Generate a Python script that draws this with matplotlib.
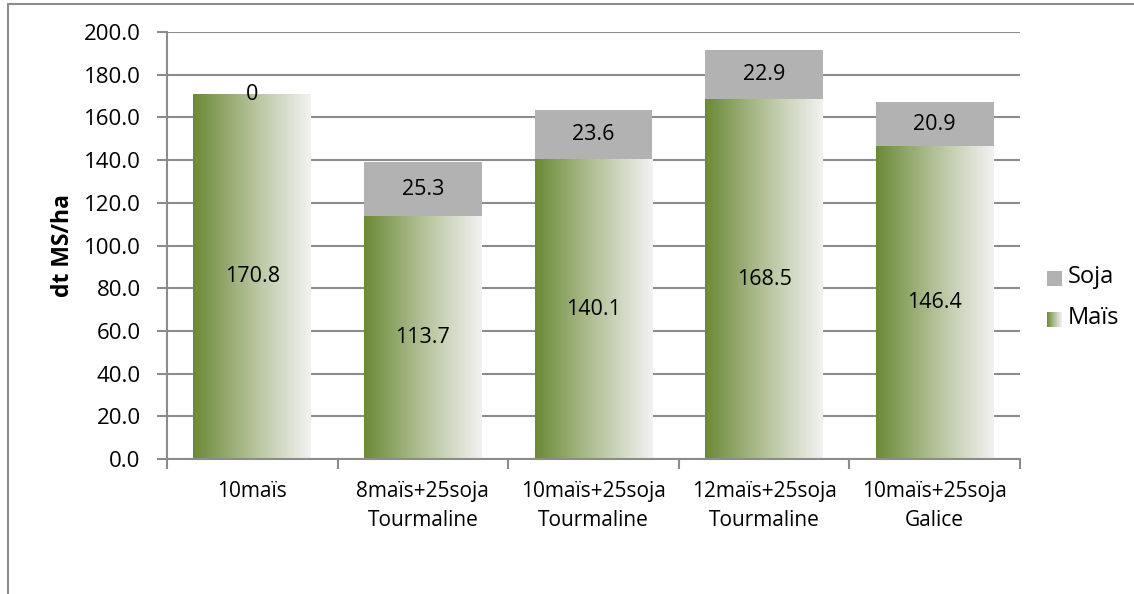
import matplotlib.pyplot as plt
import numpy as np
from matplotlib.colors import LinearSegmentedColormap
from matplotlib.patches import Rectangle

plt.rcParams['font.family'] = ['Open Sans', 'DejaVu Sans']

# Data
categories = ['10maïs', '8maïs+25soja\nTourmaline', '10maïs+25soja\nTourmaline',
              '12maïs+25soja\nTourmaline', '10maïs+25soja\nGalice']
mais = [170.8, 113.7, 140.1, 168.5, 146.4]
soja = [0, 25.3, 23.6, 22.9, 20.9]
soja_labels = ['0', '25.3', '23.6', '22.9', '20.9']

green = '#6b8a36'
grey = '#b2b2b2'
grad = LinearSegmentedColormap.from_list('mais', [green, '#b3c198', '#f2f2f2'])
gradimg = np.linspace(0, 1, 256).reshape(1, -1)

fig = plt.figure(figsize=(11.34, 5.94), dpi=100)
ax = fig.add_axes([0.1473, 0.2273, 0.7522, 0.7188])

# outer frame
fig.patches.append(Rectangle((8 / 1134, -0.1), 1.2, 1 - 4 / 594 + 0.1, transform=fig.transFigure,
                             fill=False, edgecolor='#8c8c8c', linewidth=1.5))

x = np.arange(len(categories))
w = 0.69
bars_m = ax.bar(x, mais, w, color='none', zorder=2)
bars_s = ax.bar(x, soja, w, bottom=mais, color=grey, zorder=2)

for b in bars_m:
    bx, by = b.get_x(), b.get_y()
    ax.imshow(gradimg, cmap=grad, aspect='auto', zorder=2,
              extent=[bx, bx + b.get_width(), by, by + b.get_height()])

for i in range(len(x)):
    ax.text(x[i], mais[i] / 2, f'{mais[i]:.1f}', ha='center', va='center', fontsize=15.5, zorder=3)
    ax.text(x[i], mais[i] + soja[i] / 2, soja_labels[i], ha='center', va='center', fontsize=15.5, zorder=3)

ax.set_xlim(-0.5, len(x) - 0.5)
ax.set_ylim(0, 200)
ax.set_yticks(np.arange(0, 201, 20))
ax.set_yticklabels([f'{v:.1f}' for v in np.arange(0, 201, 20)], fontsize=16)
ax.yaxis.grid(True, color='#8c8c8c', linewidth=1.5, zorder=0)
ax.set_axisbelow(True)

ax.set_xticks(np.arange(-0.5, len(x), 1))
ax.set_xticklabels([])
ax.set_xticks(x, minor=True)
ax.set_xticklabels(categories, minor=True, fontsize=15, va='top', linespacing=1.5)
ax.tick_params(axis='x', which='minor', length=0, pad=16)
ax.tick_params(axis='x', which='major', length=7, width=1.5, color='#8c8c8c', direction='out')
ax.tick_params(axis='y', length=7, width=1.5, color='#8c8c8c', pad=12)

for s in ['top', 'right']:
    ax.spines[s].set_visible(False)
for s in ['left', 'bottom']:
    ax.spines[s].set_color('#8c8c8c')
    ax.spines[s].set_linewidth(1.5)

ax.set_ylabel('dt MS/ha', fontsize=16.5, fontweight='bold', labelpad=6)

# legend
lx = 1047 / 1134
fig.patches.append(Rectangle((lx, 1 - 286 / 594), 15 / 1134, 15 / 594, transform=fig.transFigure,
                             facecolor=grey, edgecolor='none'))
lax = fig.add_axes([lx, 1 - 327 / 594, 15 / 1134, 15 / 594])
lax.imshow(gradimg, cmap=grad, aspect='auto')
lax.axis('off')
fig.text(1068 / 1134, 1 - 277 / 594, 'Soja', fontsize=17, va='center')
fig.text(1068 / 1134, 1 - 318 / 594, 'Maïs', fontsize=17, va='center')

fig.savefig('out.png', dpi=100)
